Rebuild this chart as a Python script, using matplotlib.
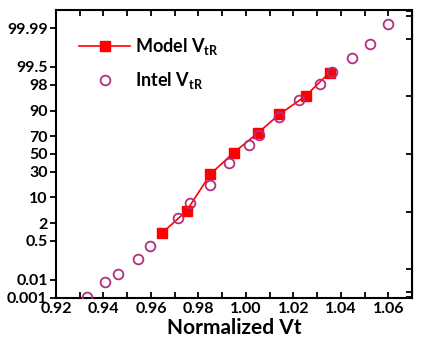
import numpy as np
import matplotlib
matplotlib.use("Agg")
import matplotlib.pyplot as plt
from statistics import NormalDist

# cumulative probability (%) vs normalized Vt
model_vt = [0.9646, 0.9750, 0.9850, 0.9948, 1.0049, 1.0141, 1.0251, 1.0352]
model_p = [0.94, 4.6, 27.4, 51.5, 73.0, 88.0, 95.7, 99.2]

intel_vt = [0.9330, 0.9407, 0.9462, 0.9547, 0.9597, 0.9712, 0.9764, 0.9850,
            0.9927, 1.0011, 1.0057, 1.0141, 1.0222, 1.0310, 1.0362, 1.0445,
            1.0521, 1.0598]
intel_p = [0.0012, 0.0075, 0.0185, 0.09, 0.33, 2.8, 7.5, 17.7,
           40.0, 60.5, 71.0, 86.5, 94.6, 98.1, 99.22, 99.78,
           99.945, 99.994]

y_ticks = [0.001, 0.01, 0.5, 2, 10, 30, 50, 70, 90, 98, 99.5, 99.99]
y_labels = ["0.001", "0.01", "0.5", "2", "10", "30", "50", "70", "90", "98", "99.5", "99.99"]
x_ticks = [0.92, 0.94, 0.96, 0.98, 1.00, 1.02, 1.04, 1.06]

nd = NormalDist()
_ppf = np.vectorize(lambda p: nd.inv_cdf(min(max(p / 100.0, 1e-12), 1 - 1e-12)),
                    otypes=[float])
_cdf = np.vectorize(lambda z: nd.cdf(z) * 100.0, otypes=[float])


def fwd(p):
    return _ppf(np.asarray(p, dtype=float))


def inv(z):
    return _cdf(np.asarray(z, dtype=float))


plt.rcParams['font.family'] = ['Lato', 'DejaVu Sans']
plt.rcParams['font.weight'] = 'bold'
plt.rcParams['mathtext.fontset'] = 'custom'
plt.rcParams['mathtext.bf'] = 'Lato:bold'
plt.rcParams['mathtext.rm'] = 'Lato:bold'

fig = plt.figure(figsize=(4.21, 3.55), dpi=100)
ax = fig.add_axes([0.133, 0.1606, 0.846, 0.8114])

ax.plot(model_vt, model_p, '-s', color='#ff0000', lw=1.2, ms=6.5,
        label=r'Model V$_{\mathbf{tR}}$', zorder=2)
ax.plot(intel_vt, intel_p, 'o', mfc='none', mec='#b0307f', mew=1.3, ms=7,
        label=r'Intel V$_{\mathbf{tR}}$', zorder=3)

ax.set_yscale('function', functions=(fwd, inv))
ax.set_ylim(0.001, 99.999)
ax.set_yticks(y_ticks)
ax.set_yticklabels(y_labels)
ax.yaxis.set_minor_locator(matplotlib.ticker.NullLocator())

ax.set_xlim(0.92, 1.07)
ax.set_xticks(x_ticks)
ax.set_xticklabels([f"{v:.2f}" for v in x_ticks])
ax.set_xticks(np.arange(0.93, 1.07, 0.02), minor=True)

for s in ax.spines.values():
    s.set_linewidth(1.5)

ax.tick_params(axis='x', which='both', direction='in', top=True, length=4,
               width=1.3, labelsize=11.5, pad=3)
ax.tick_params(axis='y', which='both', direction='out', length=4,
               width=1.3, labelsize=11.5, pad=2)

# right-side inward ticks at the same probabilities
ax2 = ax.secondary_yaxis('right', functions=(lambda v: v, lambda v: v))
ax2.set_yticks(y_ticks)
ax2.tick_params(direction='in', length=4, width=1.3, labelright=False)
ax2.yaxis.set_minor_locator(matplotlib.ticker.NullLocator())

ax.set_xlabel('Normalized Vt', fontsize=15, fontweight='bold', labelpad=1)

ax.legend(loc='upper left', bbox_to_anchor=(0.02, 0.965), frameon=False,
          fontsize=13, handlelength=2.8, handletextpad=0.3, labelspacing=0.7)

fig.savefig('out.png', dpi=100)
